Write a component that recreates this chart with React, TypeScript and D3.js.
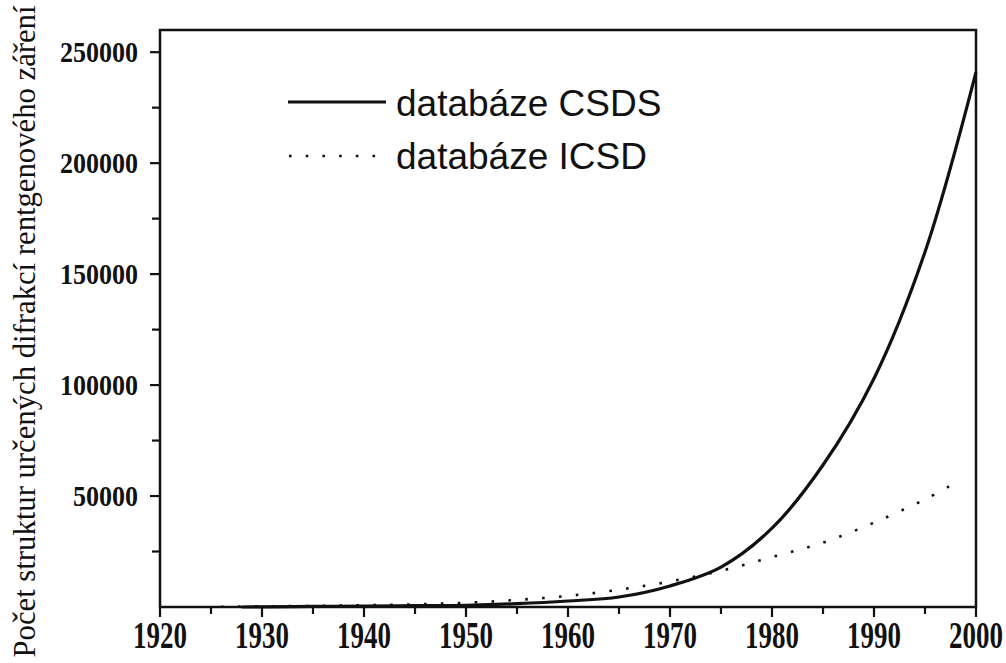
import React, { useEffect, useRef } from "react";
import * as d3 from "d3";

const csdsYears = [1928, 1930, 1935, 1940, 1945, 1950, 1955, 1960, 1965, 1970, 1975, 1980, 1985, 1990, 1995, 2000];
const csdsValues = [0, 100, 250, 400, 600, 800, 1500, 2700, 4500, 9500, 18000, 35500, 64000, 103000, 160000, 241000];

const icsdYears = [1926, 1930, 1935, 1940, 1945, 1950, 1955, 1960, 1965, 1970, 1975, 1980, 1985, 1990, 1995, 1998];
const icsdValues = [100, 300, 500, 800, 1200, 1900, 3200, 5000, 7800, 11500, 16300, 22500, 29000, 38000, 48500, 56000];

const xTickLabels = [1920, 1930, 1940, 1950, 1960, 1970, 1980, 1990, 2000];
const xMinorTicks = [1925, 1935, 1945, 1955, 1965, 1975, 1985, 1995];
const yTickLabels = [50000, 100000, 150000, 200000, 250000];
const yMinorTicks = [25000, 75000, 125000, 175000, 225000];

const legendLabels = ["databáze CSDS", "databáze ICSD"];
const yTitle = "Počet struktur určených difrakcí rentgenového záření";

const W = 1006;
const H = 663;
const M = { left: 160, right: 976, top: 30, bottom: 607 };

export default function App() {
  const ref = useRef<SVGSVGElement>(null);

  useEffect(() => {
    const svg = d3.select(ref.current);
    svg.selectAll("*").remove();

    const x = d3.scaleLinear().domain([1920, 2000]).range([M.left, M.right]);
    const y = d3.scaleLinear().domain([0, 260000]).range([M.bottom, M.top]);

    const g = svg.append("g");

    // frame
    g.append("rect")
      .attr("x", M.left)
      .attr("y", M.top)
      .attr("width", M.right - M.left)
      .attr("height", M.bottom - M.top)
      .attr("fill", "none")
      .attr("stroke", "#111")
      .attr("stroke-width", 2.5);

    // x ticks
    g.selectAll(".xmaj")
      .data(xTickLabels)
      .enter()
      .append("line")
      .attr("x1", (d) => x(d))
      .attr("x2", (d) => x(d))
      .attr("y1", M.bottom)
      .attr("y2", M.bottom + 10)
      .attr("stroke", "#111")
      .attr("stroke-width", 2.2);
    g.selectAll(".xmin")
      .data(xMinorTicks)
      .enter()
      .append("line")
      .attr("x1", (d) => x(d))
      .attr("x2", (d) => x(d))
      .attr("y1", M.bottom)
      .attr("y2", M.bottom + 7)
      .attr("stroke", "#111")
      .attr("stroke-width", 2.2);
    g.selectAll(".xlab")
      .data(xTickLabels)
      .enter()
      .append("text")
      .attr("transform", (d) => `translate(${Math.min(x(d), W - 30)}, 648) scale(0.71, 1)`)
      .attr("text-anchor", "middle")
      .attr("font-family", "'Liberation Serif', 'Times New Roman', serif")
      .attr("font-weight", "bold")
      .attr("font-size", 38)
      .attr("fill", "#111")
      .text((d) => String(d));

    // y ticks
    g.selectAll(".ymaj")
      .data(yTickLabels)
      .enter()
      .append("line")
      .attr("x1", M.left - 10)
      .attr("x2", M.left)
      .attr("y1", (d) => y(d))
      .attr("y2", (d) => y(d))
      .attr("stroke", "#111")
      .attr("stroke-width", 2.2);
    g.selectAll(".ymin")
      .data(yMinorTicks)
      .enter()
      .append("line")
      .attr("x1", M.left - 8)
      .attr("x2", M.left)
      .attr("y1", (d) => y(d))
      .attr("y2", (d) => y(d))
      .attr("stroke", "#111")
      .attr("stroke-width", 2.2);
    g.selectAll(".ylab")
      .data(yTickLabels)
      .enter()
      .append("text")
      .attr("transform", (d) => `translate(138, ${y(d) + 10}) scale(0.867, 1)`)
      .attr("text-anchor", "end")
      .attr("font-family", "'Liberation Serif', 'Times New Roman', serif")
      .attr("font-weight", "bold")
      .attr("font-size", 30)
      .attr("fill", "#111")
      .text((d) => String(d));

    // y title
    g.append("text")
      .attr("transform", `translate(35, ${H / 2}) rotate(-90)`)
      .attr("text-anchor", "middle")
      .attr("font-family", "'Liberation Serif', 'Times New Roman', serif")
      .attr("font-size", 31)
      .attr("textLength", 652)
      .attr("lengthAdjust", "spacingAndGlyphs")
      .attr("fill", "#111")
      .text(yTitle);

    const line = d3
      .line<[number, number]>()
      .x((d) => x(d[0]))
      .y((d) => y(d[1]))
      .curve(d3.curveCatmullRom.alpha(0.5));

    const csds: [number, number][] = csdsYears.map((yr, i) => [yr, csdsValues[i]]);
    const icsd: [number, number][] = icsdYears.map((yr, i) => [yr, icsdValues[i]]);

    g.append("path")
      .attr("d", line(icsd) || "")
      .attr("fill", "none")
      .attr("stroke", "#111")
      .attr("stroke-width", 2.6)
      .attr("stroke-dasharray", "2.6 14.3");

    g.append("path")
      .attr("d", line(csds) || "")
      .attr("fill", "none")
      .attr("stroke", "#111")
      .attr("stroke-width", 3.2)
      .attr("stroke-linejoin", "round");

    // legend
    g.append("line")
      .attr("x1", 288)
      .attr("x2", 386)
      .attr("y1", 102)
      .attr("y2", 102)
      .attr("stroke", "#111")
      .attr("stroke-width", 3.2);
    g.append("line")
      .attr("x1", 289)
      .attr("x2", 386)
      .attr("y1", 156)
      .attr("y2", 156)
      .attr("stroke", "#111")
      .attr("stroke-width", 2.6)
      .attr("stroke-dasharray", "2.6 14.1");
    legendLabels.forEach((lab, i) => {
      g.append("text")
        .attr("x", 396)
        .attr("y", 116 + i * 53)
        .attr("font-family", "'Liberation Sans', Arial, sans-serif")
        .attr("font-size", 37)
        .attr("fill", "#111")
        .text(lab);
    });
  }, []);

  return (
    <svg
      ref={ref}
      width={W}
      height={H}
      style={{ position: "absolute", left: 0, top: 0, background: "#fff" }}
    />
  );
}
